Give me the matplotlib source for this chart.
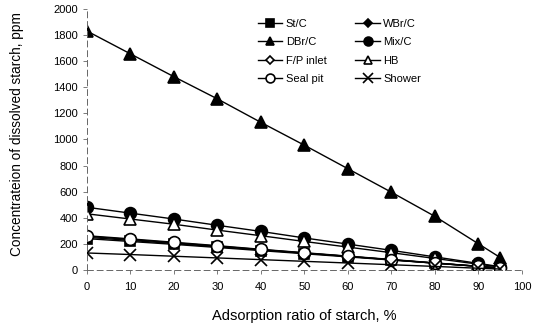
import numpy as np
import matplotlib
matplotlib.use("Agg")
from matplotlib import pyplot as plt

plt.rcParams['font.family'] = ['Liberation Sans', 'DejaVu Sans']

ratio = [0, 10, 20, 30, 40, 50, 60, 70, 80, 90, 95]

st_c = [240, 218, 196, 172, 148, 124, 100, 76, 52, 28, 14]
wbr_c = [258, 233, 208, 182, 156, 130, 104, 78, 52, 27, 14]
dbr_c = [1830, 1655, 1480, 1310, 1130, 955, 775, 595, 410, 200, 95]
mix_c = [480, 435, 390, 342, 295, 245, 198, 150, 100, 50, 25]
fp_inlet = [250, 226, 202, 178, 154, 128, 104, 78, 52, 27, 14]
hb = [430, 390, 350, 305, 262, 218, 175, 132, 88, 44, 22]
seal_pit = [262, 238, 212, 186, 158, 132, 106, 80, 54, 28, 14]
shower = [130, 118, 105, 92, 79, 66, 53, 40, 27, 13, 7]

series = [
    ("St/C", st_c, "s", "k"),
    ("WBr/C", wbr_c, "D", "k"),
    ("DBr/C", dbr_c, "^", "k"),
    ("Mix/C", mix_c, "o", "k"),
    ("F/P inlet", fp_inlet, "D", "w"),
    ("HB", hb, "^", "w"),
    ("Seal pit", seal_pit, "o", "w"),
    ("Shower", shower, "x", "k"),
]
sizes = {"s": 7, "D": 5, "^": 8, "o": 8.5, "x": 9}

fig = plt.figure(figsize=(5.37, 3.28), dpi=100)
ax = fig.add_axes([0.162, 0.177, 0.81, 0.796])

handles = []
for name, vals, mk, fc in series:
    h, = ax.plot(ratio, vals, color="k", lw=1.0, marker=mk, ms=sizes[mk],
                 mfc=fc, mec="k", mew=1.2, label=name)
    handles.append(h)

ax.set_xlim(0, 100)
ax.set_ylim(0, 2000)
ax.set_xticks(range(0, 101, 10))
ax.set_yticks(range(0, 2001, 200))
ax.tick_params(labelsize=8, length=3, width=0.6, color="0.4")
ax.tick_params(axis="x", pad=6)
for s in ["top", "right"]:
    ax.spines[s].set_visible(False)
for s in ["left", "bottom"]:
    ax.spines[s].set_linestyle((0, (6, 4)))
    ax.spines[s].set_linewidth(0.7)
    ax.spines[s].set_color("0.4")

ax.set_xlabel("Adsorption ratio of starch, %", fontsize=10.5, labelpad=12)
ax.set_ylabel("Concentrateion of dissolved starch, ppm", fontsize=9.8)
ax.yaxis.set_label_coords(-0.145, 0.52)

order = [0, 2, 4, 6, 1, 3, 5, 7]
ax.legend([handles[i] for i in order], [series[i][0] for i in order],
          ncol=2, loc="upper left", bbox_to_anchor=(0.37, 1.0), frameon=False,
          fontsize=8, handlelength=2.2, columnspacing=2.6, labelspacing=0.75,
          handletextpad=0.3, markerscale=0.75)

fig.savefig("out.png", dpi=100)
